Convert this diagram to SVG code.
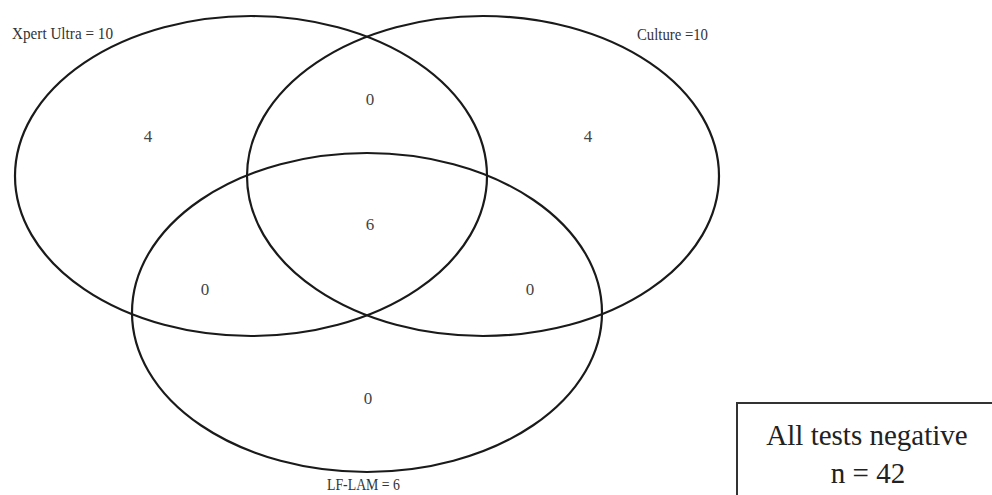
<svg xmlns="http://www.w3.org/2000/svg" width="992" height="495" viewBox="0 0 992 495">
<style>
.set{fill:none;stroke:#1a1a1a;stroke-width:2.2}
.lbl{font-family:"Liberation Serif","Times New Roman",serif;font-size:17px;fill:#333}
.num{font-family:"Liberation Serif","Times New Roman",serif;font-size:17px;fill:#444;text-anchor:middle}
.box{fill:#fff;stroke:#333;stroke-width:2}
.boxt{font-family:"Liberation Serif","Times New Roman",serif;font-size:29px;fill:#222;text-anchor:middle}
</style>
<rect width="992" height="495" fill="#fff"/>
<g id="xpert">
<ellipse class="set" cx="251" cy="176" rx="236" ry="160"/>
<text class="lbl" x="12" y="39" textLength="101" lengthAdjust="spacingAndGlyphs">Xpert Ultra = 10</text>
</g>
<g id="culture">
<ellipse class="set" cx="483" cy="176" rx="236" ry="160"/>
<text class="lbl" x="637" y="40" textLength="71" lengthAdjust="spacingAndGlyphs">Culture =10</text>
</g>
<g id="lflam">
<ellipse class="set" cx="367" cy="312.5" rx="235" ry="159.5"/>
<text class="lbl" x="327" y="490" textLength="73" lengthAdjust="spacingAndGlyphs">LF-LAM = 6</text>
</g>
<g id="counts">
<text class="num" x="148" y="142">4</text>
<text class="num" x="370" y="105">0</text>
<text class="num" x="588" y="142">4</text>
<text class="num" x="370" y="230">6</text>
<text class="num" x="205" y="295">0</text>
<text class="num" x="530" y="295">0</text>
<text class="num" x="368" y="404">0</text>
</g>
<g id="negative">
<rect class="box" x="737" y="403" width="270" height="110"/>
<text class="boxt" x="867" y="445">All tests negative</text>
<text class="boxt" x="868" y="483">n = 42</text>
</g>
<g id="connectors"/>
</svg>
